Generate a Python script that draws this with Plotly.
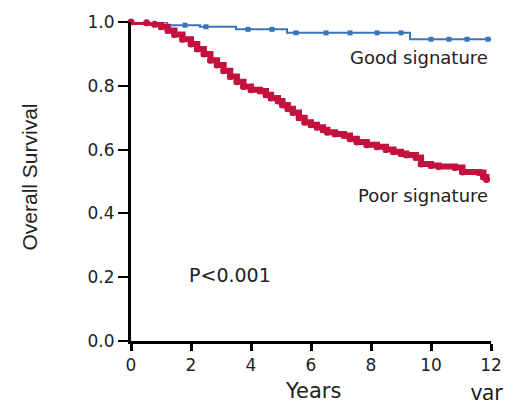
import plotly.graph_objects as go

# Poor signature (Kaplan-Meier curve)
poor_t = [0, 0.52, 0.79, 1.01, 1.23, 1.45, 1.72, 2.0, 2.21, 2.43, 2.65, 2.87, 3.09, 3.31, 3.53,
          3.75, 4.0, 4.3, 4.5, 4.67, 4.9, 5.05, 5.23, 5.4, 5.6, 5.79, 6.0, 6.2, 6.4, 6.55, 6.8,
          7.1, 7.3, 7.53, 7.86, 8.2, 8.5, 8.75, 9.0, 9.18, 9.5, 9.67, 10.0, 10.26, 10.8, 11.05,
          11.6, 11.75, 11.85]
poor_s = [1.0, 0.998, 0.993, 0.985, 0.973, 0.961, 0.946, 0.931, 0.915, 0.9, 0.88, 0.865, 0.847,
          0.829, 0.813, 0.798, 0.788, 0.784, 0.772, 0.762, 0.752, 0.74, 0.728, 0.716, 0.7, 0.686,
          0.678, 0.67, 0.662, 0.654, 0.649, 0.644, 0.634, 0.624, 0.615, 0.609, 0.6, 0.593, 0.588,
          0.583, 0.575, 0.555, 0.55, 0.547, 0.544, 0.53, 0.528, 0.514, 0.506]

# Good signature
good_t = [0, 1.2, 2.3, 3.5, 5.2, 9.3, 12.0]
good_s = [1.0, 0.99, 0.985, 0.977, 0.966, 0.946, 0.946]
good_cens_t = [1.8, 2.5, 3.9, 4.7, 5.5, 6.5, 7.3, 8.2, 9.0, 10.0, 10.6, 11.2, 11.9]
good_cens_s = [0.99, 0.985, 0.977, 0.977, 0.966, 0.966, 0.966, 0.966, 0.966, 0.946, 0.946, 0.946, 0.946]

x_ticks = [0, 2, 4, 6, 8, 10, 12]
y_ticks = [0.0, 0.2, 0.4, 0.6, 0.8, 1.0]
y_tick_text = ["0.0", "0.2", "0.4", "0.6", "0.8", "1.0"]

RED = "#c4123f"
BLUE = "#3b74b8"

W, H = 514, 406
L, R, T, B = 131, 18, 14, 65
PW, PH = W - L - R, H - T - B


def px_x(x):
    return (x - L) / PW


def px_y(y):
    return (H - B - y) / PH


fig = go.Figure()
fig.add_trace(go.Scatter(x=good_t, y=good_s, mode="lines", line=dict(color=BLUE, width=2, shape="hv"),
                         showlegend=False, cliponaxis=False))
fig.add_trace(go.Scatter(x=good_cens_t, y=good_cens_s, mode="markers",
                         marker=dict(color=BLUE, size=5, symbol="square"),
                         showlegend=False, cliponaxis=False))
fig.add_trace(go.Scatter(x=poor_t, y=poor_s, mode="lines+markers",
                         line=dict(color=RED, width=6, shape="hv"),
                         marker=dict(color=RED, size=7),
                         showlegend=False, cliponaxis=False))

tickfont = dict(family="DejaVu Sans", size=17, color="#222")
annfont = dict(family="DejaVu Sans", size=18, color="#222")
fig.update_layout(
    width=W, height=H,
    margin=dict(l=L, r=R, t=T, b=B),
    paper_bgcolor="white", plot_bgcolor="white",
    xaxis=dict(range=[0, 12], tickvals=x_ticks, ticktext=[str(v) for v in x_ticks],
               showgrid=False, zeroline=False, showline=True, linecolor="black", linewidth=3,
               ticks="outside", ticklen=7, tickwidth=3, tickcolor="black", tickfont=tickfont),
    yaxis=dict(range=[0, 1], tickvals=y_ticks, ticktext=y_tick_text,
               showgrid=False, zeroline=False, showline=True, linecolor="black", linewidth=3,
               ticks="outside", ticklen=10, tickwidth=2, tickcolor="black", tickfont=tickfont),
    annotations=[
        dict(text="Overall Survival", x=px_x(28), y=px_y(173), xref="paper", yref="paper",
             xanchor="center", yanchor="middle", showarrow=False, textangle=-90,
             font=dict(family="Liberation Sans", size=21, color="#222")),
        dict(text="Years", x=px_x(316), y=px_y(392), xref="paper", yref="paper",
             xanchor="center", yanchor="middle", showarrow=False,
             font=dict(family="DejaVu Sans", size=21, color="#222")),
        dict(text="Good signature", x=11.95, y=0.89, xref="x", yref="y", xanchor="right",
             yanchor="middle", showarrow=False, font=annfont),
        dict(text="Poor signature", x=11.95, y=0.456, xref="x", yref="y", xanchor="right",
             yanchor="middle", showarrow=False, font=annfont),
        dict(text="P<0.001", x=1.87, y=0.208, xref="x", yref="y", xanchor="left",
             yanchor="middle", showarrow=False, font=dict(family="DejaVu Sans", size=19, color="#222")),
        dict(text="var", x=px_x(474), y=px_y(392), xref="paper", yref="paper", xanchor="left",
             yanchor="middle", showarrow=False,
             font=dict(family="Open Sans", size=22, color="#111")),
    ],
)
fig.write_html("out.html")
